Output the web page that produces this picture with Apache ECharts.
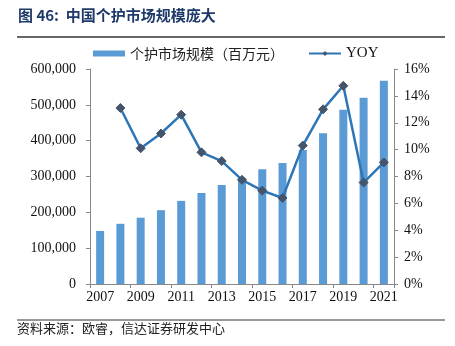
<!DOCTYPE html>
<html><head><meta charset="utf-8">
<script src="https://cdn.jsdelivr.net/npm/echarts@6/dist/echarts.min.js"></script>
<style>html,body{margin:0;padding:0;background:#fff}#c{width:455px;height:346px}</style>
</head><body><div id="c"></div>
<script>
var years = ['2007','2008','2009','2010','2011','2012','2013','2014','2015','2016','2017','2018','2019','2020','2021'];
var marketSize = [148000,168000,185000,206000,232000,254000,276000,296000,320000,338000,374000,421000,486000,520000,567000];
var yoy = [null,13.1,10.1,11.2,12.6,9.8,9.15,7.75,6.95,6.4,10.3,13.0,14.75,7.55,9.05];
var leftTicks = [0,100000,200000,300000,400000,500000,600000];
var rightTicks = [0,2,4,6,8,10,12,14,16];

var serif = '"Liberation Serif","Noto Sans CJK SC",serif';
var cjk = '"Noto Sans CJK SC","Liberation Serif",serif';
var chart = echarts.init(document.getElementById('c'), null, {renderer:'canvas'});
chart.setOption({
  animation:false,
  graphic:[
    {type:'text', left:18, top:8, style:{text:'图 46:  中国个护市场规模庞大', font:'bold 15px '+cjk, fill:'#1f3a6a'}},
    {type:'line', shape:{x1:17,y1:37,x2:445,y2:37}, style:{stroke:'#333',lineWidth:1.5}},
    {type:'line', shape:{x1:17,y1:320,x2:445,y2:320}, style:{stroke:'#333',lineWidth:1}},
    {type:'text', left:17, top:322, style:{text:'资料来源：欧睿，信达证券研发中心', font:'13px '+cjk, fill:'#222'}}
  ],
  legend:{
    top:41, left:88, itemGap:24, itemWidth:32, itemHeight:6,
    textStyle:{fontFamily:cjk, fontSize:14, color:'#222'},
    data:[{name:'个护市场规模（百万元）', icon:'rect'},
          {name:'YOY', textStyle:{fontFamily:serif, fontSize:15, color:'#111'}}]
  },
  grid:{left:90, right:61, top:69, bottom:62},
  xAxis:{
    type:'category', data:years,
    axisLine:{lineStyle:{color:'#888'}},
    axisTick:{show:true, alignWithLabel:false, length:4, lineStyle:{color:'#888'}},
    axisLabel:{interval:1, fontFamily:serif, fontSize:14, color:'#111', margin:6}
  },
  yAxis:[
    {type:'value', min:0, max:600000, interval:100000,
     axisLine:{show:true, lineStyle:{color:'#888'}},
     axisTick:{show:true, length:4, lineStyle:{color:'#888'}},
     splitLine:{show:false},
     axisLabel:{fontFamily:serif, fontSize:14, color:'#111', margin:14,
       formatter:function(v){return v.toLocaleString('en-US');}}},
    {type:'value', min:0, max:16, interval:2,
     axisLine:{show:true, lineStyle:{color:'#888'}},
     axisTick:{show:true, length:4, lineStyle:{color:'#888'}},
     splitLine:{show:false},
     axisLabel:{fontFamily:serif, fontSize:14, color:'#111', margin:10,
       formatter:function(v){return v+'%';}}}
  ],
  series:[
    {name:'个护市场规模（百万元）', type:'bar', data:marketSize, barWidth:8,
     itemStyle:{color:'#5b9bd5'}},
    {name:'YOY', type:'line', yAxisIndex:1, data:yoy, symbol:'diamond', symbolSize:9,
     lineStyle:{color:'#2e75b6', width:2.5},
     itemStyle:{color:'#44546a', borderColor:'#44546a'}}
  ]
});
</script></body></html>
